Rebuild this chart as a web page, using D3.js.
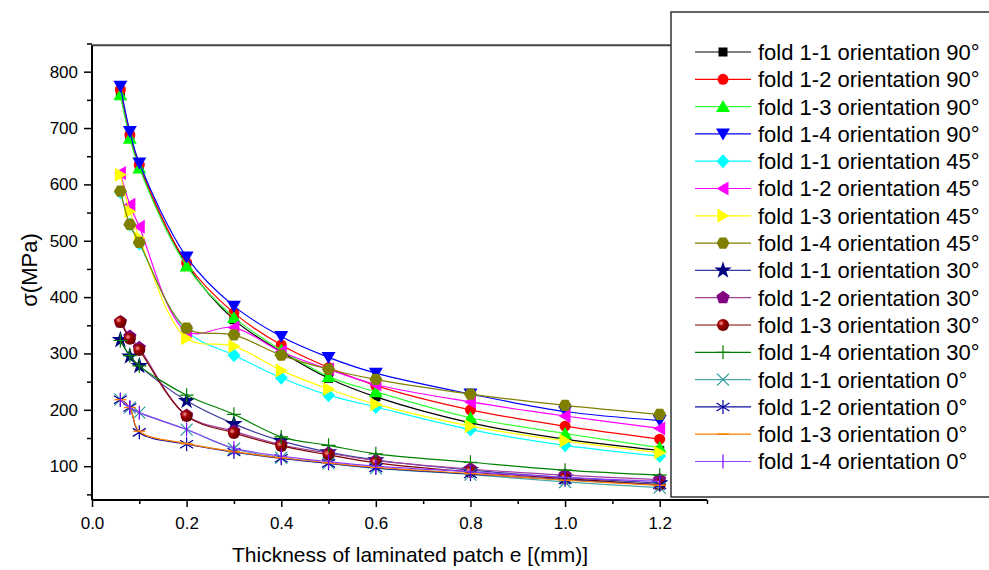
<!DOCTYPE html>
<html>
<head>
<meta charset="utf-8">
<script src="https://cdn.jsdelivr.net/npm/d3@7"></script>
<style>
  html, body { margin: 0; padding: 0; background: #fff; }
  svg { display: block; font-family: "Liberation Sans", Arial, sans-serif; }
</style>
</head>
<body>
<svg id="chart" width="989" height="570"></svg>
<script>
// Patch thickness e (mm)
const thickness = [0.06, 0.08, 0.1, 0.2, 0.3, 0.4, 0.5, 0.6, 0.8, 1.0, 1.2];

// Stress σ (MPa) per fold and orientation
const fold11_90 = [764, 686, 632, 458, 360, 303, 256, 223, 177, 148, 128];
const fold12_90 = [768, 688, 635, 461, 372, 315, 275, 243, 200, 171, 148];
const fold13_90 = [759, 682, 629, 455, 364, 306, 259, 232, 186, 158, 133];
const fold14_90 = [774, 694, 638, 471, 384, 330, 293, 265, 228, 197, 181];
const fold11_45 = [586, 529, 495, 340, 297, 257, 226, 205, 165, 137, 118];
const fold12_45 = [620, 564, 525, 339, 346, 303, 272, 245, 214, 189, 167];
const fold13_45 = [617, 552, 505, 327, 313, 270, 237, 210, 171, 145, 124];
const fold14_45 = [588, 529, 497, 345, 333, 297, 272, 254, 228, 208, 192];
const fold11_30 = [324, 295, 278, 216, 175, 145, 125, 111, 93, 80, 70];
const fold12_30 = [356, 330, 310, 190, 162, 138, 123, 110, 95, 84, 76];
const fold13_30 = [356, 326, 306, 189, 159, 136, 120, 106, 90, 78, 67];
const fold14_30 = [323, 296, 278, 226, 192, 152, 137, 122, 107, 93, 84];
const fold11_0  = [218, 204, 195, 165, 131, 115, 105, 96, 85, 72, 62];
const fold12_0  = [218, 204, 160, 139, 125, 114, 105, 97, 86, 76, 67];
const fold13_0  = [218, 204, 162, 140, 126, 115, 106, 98, 87, 75, 66];
const fold14_0  = [218, 204, 195, 165, 132, 118, 108, 100, 90, 80, 73];

const seriesNames = [
  "fold 1-1 orientation 90°", "fold 1-2 orientation 90°", "fold 1-3 orientation 90°", "fold 1-4 orientation 90°",
  "fold 1-1 orientation 45°", "fold 1-2 orientation 45°", "fold 1-3 orientation 45°", "fold 1-4 orientation 45°",
  "fold 1-1 orientation 30°", "fold 1-2 orientation 30°", "fold 1-3 orientation 30°", "fold 1-4 orientation 30°",
  "fold 1-1 orientation 0°", "fold 1-2 orientation 0°", "fold 1-3 orientation 0°", "fold 1-4 orientation 0°"
];
const seriesValues = [
  fold11_90, fold12_90, fold13_90, fold14_90,
  fold11_45, fold12_45, fold13_45, fold14_45,
  fold11_30, fold12_30, fold13_30, fold14_30,
  fold11_0, fold12_0, fold13_0, fold14_0
];

// Axis ticks
const xMajorTicks = [0.0, 0.2, 0.4, 0.6, 0.8, 1.0, 1.2];
const xMinorTicks = [0.1, 0.3, 0.5, 0.7, 0.9, 1.1, 1.3];
const yMajorTicks = [100, 200, 300, 400, 500, 600, 700, 800];
const yMinorTicks = [50, 150, 250, 350, 450, 550, 650, 750, 850];

// Styling per series
const seriesColors = [
  "#000000", "#ff0000", "#00ff00", "#0000ff",
  "#00ffff", "#ff00ff", "#ffff00", "#808000",
  "#000080", "#800080", "#800000", "#008000",
  "#2b9a9a", "#0000a0", "#ff8000", "#8000ff"
];
const seriesLineColors = [
  "#000000", "#ff0000", "#33ff33", "#0000ff",
  "#00ffff", "#ff00ff", "#ffff00", "#808000",
  "#3a3a9a", "#a040a0", "#800000", "#008000",
  "#4aa8a8", "#1010a0", "#ff8000", "#9040ff"
];
const seriesShapes = [
  "square", "circle", "triUp", "triDown",
  "diamond", "triLeft", "triRight", "hexagon",
  "star", "pentagon", "sphere", "plus",
  "cross", "asterisk", "hbar", "vbar"
];

const svg = d3.select("#chart");

const x = d3.scaleLinear().domain([0, 1.3]).range([92, 707]);
const y = d3.scaleLinear().domain([40, 850]).range([500, 43.5]);

// Gradient for the shaded sphere marker
const defs = svg.append("defs");
const grad = defs.append("radialGradient").attr("id", "sphereGrad")
  .attr("cx", "0.35").attr("cy", "0.35").attr("r", "0.7");
grad.append("stop").attr("offset", "0").attr("stop-color", "#ff9a9a");
grad.append("stop").attr("offset", "0.35").attr("stop-color", "#a00000");
grad.append("stop").attr("offset", "1").attr("stop-color", "#600000");

function polygon(n, r, rot) {
  const pts = d3.range(n).map(i => {
    const a = rot + i * 2 * Math.PI / n;
    return [r * Math.cos(a), r * Math.sin(a)];
  });
  return "M" + pts.map(p => p[0].toFixed(2) + "," + p[1].toFixed(2)).join("L") + "Z";
}

function drawMarker(g, shape, color, cx, cy) {
  const t = `translate(${cx},${cy})`;
  switch (shape) {
    case "square":
      g.append("rect").attr("x", cx - 4.5).attr("y", cy - 4.5).attr("width", 9).attr("height", 9).attr("fill", color);
      break;
    case "circle":
      g.append("circle").attr("cx", cx).attr("cy", cy).attr("r", 5.5).attr("fill", color);
      break;
    case "sphere":
      g.append("circle").attr("cx", cx).attr("cy", cy).attr("r", 6).attr("fill", "url(#sphereGrad)");
      break;
    case "triUp":
      g.append("path").attr("transform", t).attr("d", "M0,-6.5L7,5.5L-7,5.5Z").attr("fill", color);
      break;
    case "triDown":
      g.append("path").attr("transform", t).attr("d", "M0,6.5L7,-5.5L-7,-5.5Z").attr("fill", color);
      break;
    case "triLeft":
      g.append("path").attr("transform", t).attr("d", "M-6.5,0L5.5,-7L5.5,7Z").attr("fill", color);
      break;
    case "triRight":
      g.append("path").attr("transform", t).attr("d", "M6.5,0L-5.5,-7L-5.5,7Z").attr("fill", color);
      break;
    case "diamond":
      g.append("path").attr("transform", t).attr("d", "M0,-7L6.5,0L0,7L-6.5,0Z").attr("fill", color);
      break;
    case "hexagon":
      g.append("path").attr("transform", t).attr("d", polygon(6, 6.5, 0)).attr("fill", color);
      break;
    case "pentagon":
      g.append("path").attr("transform", t).attr("d", polygon(5, 7, -Math.PI / 2)).attr("fill", color);
      break;
    case "star":
      g.append("path").attr("transform", t).attr("d", d3.symbol(d3.symbolStar, 95)()).attr("fill", color);
      break;
    case "plus":
      g.append("path").attr("transform", t).attr("d", "M-7,0H7M0,-7V7").attr("stroke", color).attr("stroke-width", 1.2).attr("fill", "none");
      break;
    case "cross":
      g.append("path").attr("transform", t).attr("d", "M-6,-6L6,6M-6,6L6,-6").attr("stroke", color).attr("stroke-width", 1.2).attr("fill", "none");
      break;
    case "asterisk":
      g.append("path").attr("transform", t).attr("d", "M0,-7V7M-6.5,-4L6.5,4M-6.5,4L6.5,-4").attr("stroke", color).attr("stroke-width", 1.2).attr("fill", "none");
      break;
    case "hbar":
      g.append("path").attr("transform", t).attr("d", "M-6,0H6").attr("stroke", color).attr("stroke-width", 1.4).attr("fill", "none");
      break;
    case "vbar":
      g.append("path").attr("transform", t).attr("d", "M0,-7V7").attr("stroke", color).attr("stroke-width", 1.2).attr("fill", "none");
      break;
  }
}

// Plot frame: top border line
svg.append("line").attr("x1", x(0)).attr("x2", x(1.3)).attr("y1", y(847)).attr("y2", y(847))
  .attr("stroke", "#444").attr("stroke-width", 2);

// Series curves and markers
const lineGen = d3.line()
  .x((d, i) => x(thickness[i]))
  .y(d => y(d))
  .curve(d3.curveCatmullRom.alpha(0.5));

const plot = svg.append("g");
seriesValues.forEach((vals, si) => {
  const g = plot.append("g");
  g.append("path").attr("d", lineGen(vals))
    .attr("fill", "none").attr("stroke", seriesLineColors[si]).attr("stroke-width", 1.2);
  vals.forEach((v, i) => drawMarker(g, seriesShapes[si], seriesColors[si], x(thickness[i]), y(v)));
});

// Axes: major ticks with labels, minor ticks without
const fontTick = 17;
const xAxis = svg.append("g").attr("transform", `translate(0,${y(40)})`);
xAxis.call(d3.axisBottom(x).tickValues(xMajorTicks).tickFormat(d3.format(".1f")).tickSize(7).tickPadding(10).tickSizeOuter(0));
const xMinor = xAxis.append("g").call(d3.axisBottom(x).tickValues(xMinorTicks).tickFormat("").tickSize(4));
xMinor.select(".domain").remove();
xAxis.select(".domain").attr("d", `M${x(0)},0H${x(1.3)}`);

const yAxis = svg.append("g").attr("transform", `translate(${x(0)},0)`);
yAxis.call(d3.axisLeft(y).tickValues(yMajorTicks).tickFormat(d3.format("d")).tickSize(8).tickPadding(6).tickSizeOuter(0));
const yMinor = yAxis.append("g").call(d3.axisLeft(y).tickValues(yMinorTicks).tickFormat("").tickSize(5));
yMinor.select(".domain").remove();
yAxis.select(".domain").attr("d", `M0,${y(40)}V${y(847)}`);

svg.selectAll(".domain").attr("stroke", "#000").attr("stroke-width", 2);
svg.selectAll(".tick line").attr("stroke", "#000").attr("stroke-width", 1.5);
svg.selectAll(".tick text").attr("font-size", fontTick).attr("fill", "#000")
  .attr("font-family", "'Liberation Sans', Arial, sans-serif");

// Axis titles
svg.append("text").attr("x", 410).attr("y", 562).attr("text-anchor", "middle")
  .attr("font-size", 21).attr("fill", "#000").text("Thickness of laminated patch e [(mm)]");
svg.append("text").attr("transform", `translate(37,270) rotate(-90)`).attr("text-anchor", "middle")
  .attr("font-size", 22).attr("fill", "#000").text("σ(MPa)");

// Legend
const legend = svg.append("g");
legend.append("rect").attr("x", 671).attr("y", 12).attr("width", 330).attr("height", 485)
  .attr("fill", "#fff").attr("stroke", "#333").attr("stroke-width", 1.5);
seriesNames.forEach((name, i) => {
  const ly = 52 + i * 27.3;
  const g = legend.append("g");
  g.append("line").attr("x1", 695).attr("x2", 751).attr("y1", ly).attr("y2", ly)
    .attr("stroke", seriesLineColors[i]).attr("stroke-width", 1.2);
  drawMarker(g, seriesShapes[i], seriesColors[i], 723, ly);
  g.append("text").attr("x", 758).attr("y", ly).attr("dy", "0.36em")
    .attr("font-size", 22).attr("fill", "#000").text(name);
});
</script>
</body>
</html>
